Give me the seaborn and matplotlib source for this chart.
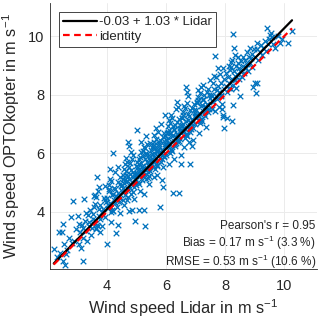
import numpy as np
import pandas as pd
import matplotlib
matplotlib.use("Agg")
import matplotlib.pyplot as plt
import seaborn as sns

# ---- data ----
lidar = [
 # 2.2 - 3.0
 2.2,2.38,2.48,2.51,2.54,2.51,2.58,2.3,2.65,2.78,2.85,2.9,2.7,2.95,2.6,2.82,2.4,
 # 3.0 - 3.5
 3.02,3.05,3.12,3.19,3.22,3.1,3.15,3.2,3.25,3.3,3.35,3.4,3.45,3.05,3.28,3.38,3.42,3.48,3.33,3.18,
 # 3.5 - 4.0
 3.52,3.67,3.58,3.83,3.61,3.95,3.73,3.54,3.88,3.64,3.78,3.56,3.98,3.7,3.82,3.6,3.92,3.76,3.63,3.89,3.53,3.72,
 3.66,3.74,3.94,3.77,3.64,3.85,3.56,3.7,
 # 4.0 - 4.5
 4.02,4.16,4.08,4.33,4.11,4.45,4.23,4.04,4.37,4.14,4.28,4.06,4.48,4.2,4.31,4.09,4.41,4.26,4.13,4.38,4.03,4.22,4.46,4.07,4.34,4.18,4.43,4.1,4.25,4.35,
 4.0,4.3,4.37,4.2,4.12,4.36,4.13,4.45,4.27,
 # 4.5 - 5.0
 4.53,4.61,4.57,4.84,4.69,4.92,4.77,4.55,4.98,4.66,4.73,4.88,4.51,4.95,4.62,4.81,4.7,4.59,4.86,4.79,
 4.64,4.97,4.52,4.75,4.9,4.68,4.83,4.56,4.94,4.72,4.6,4.87,4.78,4.99,4.54,4.67,4.91,4.74,4.82,4.63,
 4.71,4.75,4.75,4.95,4.85,4.65,4.89,4.58,4.93,4.8,
 # 5.0 - 5.5
 5.04,5.13,5.27,5.08,5.41,5.19,5.36,5.02,5.48,5.22,5.31,5.11,5.44,5.17,5.39,5.06,5.29,5.46,5.24,5.14,
 5.33,5.01,5.43,5.2,5.37,5.09,5.26,5.49,5.16,5.34,5.03,5.42,5.23,5.12,5.38,5.28,5.07,5.45,5.18,5.32,
 5.47,5.21,5.35,5.1,5.4,
 5.02,5.09,5.26,5.29,5.17,5.33,5.41,5.47,5.11,5.25,
 # 5.5 - 6.0
 5.53,5.68,5.59,5.81,5.62,5.94,5.74,5.51,5.87,5.66,5.79,5.56,5.97,5.71,5.84,5.6,5.92,5.77,5.64,5.89,
 5.52,5.73,5.99,5.58,5.83,5.69,5.95,5.61,5.76,5.86,5.54,5.91,5.67,5.8,5.57,5.98,5.72,5.85,5.63,5.93,
 5.75,5.55,5.88,5.7,5.96,
 5.8,5.9,5.97,5.83,5.67,5.71,5.85,5.91,5.6,
 # 6.0 - 6.5
 6.03,6.17,6.09,6.34,6.12,6.46,6.24,6.01,6.38,6.15,6.29,6.06,6.49,6.21,6.33,6.1,6.42,6.27,6.14,6.39,
 6.02,6.23,6.47,6.08,6.32,6.19,6.44,6.11,6.26,6.36,6.04,6.41,6.18,6.3,6.07,6.48,6.22,6.35,6.13,6.43,
 6.25,6.05,
 6.24,6.44,6.38,6.41,6.5,6.51,6.17,6.33,6.11,6.28,
 # 6.5 - 7.0
 6.53,6.67,6.59,6.84,6.62,6.96,6.74,6.51,6.88,6.65,6.79,6.56,6.99,6.71,6.83,6.6,6.92,6.77,6.64,6.89,
 6.52,6.73,6.97,6.58,6.82,6.69,6.94,6.61,6.76,6.86,6.54,6.91,6.68,6.8,6.57,6.98,6.72,6.85,
 6.68,6.71,6.82,6.88,6.78,6.61,6.93,6.75,
 # 7.0 - 7.5
 7.03,7.17,7.09,7.34,7.12,7.46,7.24,7.01,7.38,7.15,7.29,7.06,7.49,7.21,7.33,7.1,7.42,7.27,7.14,7.39,
 7.02,7.23,7.47,7.08,7.32,7.19,7.44,7.11,7.26,7.36,7.04,7.41,7.18,7.3,
 7.19,7.49,7.11,7.37,7.25,
 # 7.5 - 8.0
 7.66,7.9,8.07,7.97,7.93,7.93,7.93,7.52,7.55,7.58,7.6,7.63,7.65,7.68,7.7,7.73,7.75,7.78,7.8,7.83,7.85,7.88,7.9,7.95,7.98,7.57,7.72,7.87,7.62,7.77,
 # 8.0 - 8.5
 8.27,8.31,8.34,8.2,8.27,8.24,8.02,8.05,8.08,8.1,8.13,8.15,8.18,8.2,8.23,8.25,8.28,8.3,8.33,8.36,8.38,8.4,8.43,8.46,8.48,8.12,8.22,8.35,8.45,
 # 8.5 - 9.0
 8.51,8.52,8.55,8.58,8.6,8.62,8.65,8.68,8.7,8.73,8.75,8.78,8.8,8.83,8.85,8.88,8.9,8.93,8.95,8.97,
 # 9.0 - 9.5
 9.0,9.1,9.05,9.09,9.02,9.08,9.12,9.18,9.22,9.25,9.3,9.35,9.4,9.43,9.45,9.48,
 # 9.5 - 10.3
 9.53,9.6,9.55,9.62,9.7,9.87,9.93,10.14,10.27,9.8,
]
optokopter = [
 # 2.2 - 3.0
 2.73,3.31,3.31,3.59,2.9,2.32,2.19,2.45,2.7,3.82,4.37,3.0,3.1,3.4,2.55,2.95,2.6,
 # 3.0 - 3.5
 3.86,2.9,2.77,2.32,4.44,3.3,3.55,3.1,3.7,3.35,3.9,3.5,3.2,3.6,3.95,3.65,4.05,3.45,3.0,3.45,
 # 3.5 - 4.0
 3.91,3.55,4.26,3.98,3.71,4.42,3.87,3.62,4.09,4.51,3.77,4.16,4.33,3.52,4.01,4.58,3.83,4.22,3.46,4.47,3.74,4.11,
 5.19,4.85,4.9,3.3,3.4,3.5,4.55,4.7,
 # 4.0 - 4.5
 4.47,4.05,4.78,4.52,4.21,4.96,4.39,4.12,4.63,5.05,4.29,4.71,4.88,4.02,4.55,5.12,4.34,4.77,3.98,5.03,4.24,4.61,4.49,4.92,4.18,4.57,5.18,4.31,4.82,4.44,
 2.9,3.28,3.55,6.01,5.45,5.55,3.65,3.95,5.35,
 # 4.5 - 5.0
 5.12,4.58,5.47,5.03,5.71,4.86,5.29,4.41,5.58,5.02,4.77,5.36,4.93,5.14,5.63,4.62,5.21,4.98,5.79,4.83,
 5.38,5.22,4.72,5.53,4.68,5.07,5.44,5.26,5.01,4.52,5.09,5.18,5.66,4.91,4.81,4.39,5.31,5.11,4.96,5.27,
 6.38,6.25,4.03,3.69,4.06,5.85,5.95,4.25,4.45,6.05,
 # 5.0 - 5.5
 5.43,5.87,5.21,5.62,5.96,5.08,5.71,5.34,6.12,5.49,5.93,5.27,5.58,6.04,5.16,5.52,5.79,5.41,6.23,5.66,
 5.12,5.31,5.84,5.57,6.31,4.94,5.46,5.73,5.38,6.01,5.69,5.24,5.91,5.35,5.61,6.17,5.02,5.77,5.55,5.29,
 5.64,6.09,5.48,5.82,5.36,
 6.79,4.06,4.06,3.52,6.4,6.6,4.95,6.35,4.7,4.6,
 # 5.5 - 6.0
 5.97,5.61,6.28,6.05,5.74,6.43,5.92,5.68,6.11,6.49,5.83,6.17,6.32,5.58,6.02,6.63,5.89,6.24,5.47,6.55,
 5.79,6.14,5.96,6.38,5.71,6.07,6.68,5.87,6.31,5.94,6.21,6.09,5.64,6.46,5.99,6.26,6.72,5.81,6.19,5.92,
 6.4,5.53,6.13,6.03,6.58,
 4.17,4.85,7.31,7.0,6.85,5.25,5.1,5.55,5.2,
 # 6.0 - 6.5
 6.47,6.12,6.81,6.55,6.28,6.97,6.44,6.21,6.66,7.04,6.33,6.72,6.88,6.09,6.57,7.13,6.38,6.79,6.02,7.06,
 6.31,6.64,6.49,6.92,6.24,6.59,7.18,6.37,6.83,6.45,6.71,6.62,6.16,6.98,6.51,6.76,7.22,6.34,6.69,6.41,
 6.93,6.27,
 4.64,4.64,7.75,7.58,5.94,5.63,7.3,7.5,5.65,5.8,
 # 6.5 - 7.0
 6.98,6.62,7.31,7.05,6.78,7.47,6.94,6.71,7.16,7.54,6.83,7.22,7.38,6.59,7.07,7.63,6.88,7.29,6.52,7.56,
 6.81,7.14,6.99,7.42,6.74,7.09,7.68,6.87,7.33,6.95,7.21,7.12,6.66,7.48,7.01,7.26,7.72,6.84,
 8.26,8.09,5.63,6.25,6.38,6.2,6.45,7.95,
 # 7.0 - 7.5
 7.48,7.12,7.83,7.57,7.29,7.99,7.46,7.21,7.68,8.06,7.35,7.74,7.9,7.09,7.59,8.15,7.4,7.81,7.03,8.08,
 7.31,7.66,7.51,7.94,7.26,7.61,8.2,7.39,7.85,7.47,7.73,7.64,7.18,8.0,
 8.26,8.5,6.7,6.9,8.35,
 # 7.5 - 8.0
 9.32,7.51,7.2,6.86,7.24,7.3,8.91,8.0,7.5,8.4,7.75,8.2,7.45,7.95,8.6,7.85,8.3,7.6,8.1,8.7,7.95,8.4,7.7,8.2,8.55,7.95,8.15,8.0,8.65,8.9,
 # 8.0 - 8.5
 10.07,9.59,9.35,9.11,7.65,7.1,8.3,8.75,8.1,8.6,9.0,8.4,8.85,8.2,8.55,9.2,8.35,8.8,8.5,9.0,8.25,8.7,9.1,8.55,8.9,8.25,8.95,8.65,9.3,
 # 8.5 - 9.0
 7.95,8.8,9.15,8.6,9.0,9.3,8.75,9.2,8.9,9.45,9.05,8.8,9.3,9.1,9.6,9.25,8.95,9.4,8.26,9.55,
 # 9.0 - 9.5
 8.4,8.4,8.06,9.76,9.3,9.55,9.2,9.45,9.7,9.35,9.6,9.85,9.5,10.28,9.75,9.9,
 # 9.5 - 10.3
 10.04,9.97,10.1,9.75,9.6,9.76,9.9,9.76,10.17,10.0,
]
fit_intercept = -0.03
fit_slope = 1.03
fit_label = "-0.03 + 1.03 * Lidar"
identity_label = "identity"
stats_lines = [
    "Pearson's r = 0.95",
    "Bias = 0.17 m s$^{-1}$ (3.3 %)",
    "RMSE = 0.53 m s$^{-1}$ (10.6 %)",
]
x_ticks = [4, 6, 8, 10]
y_ticks = [4, 6, 8, 10]
x_label = "Wind speed Lidar in m s$^{-1}$"
y_label = "Wind speed OPTOkopter in m s$^{-1}$"

n = min(len(lidar), len(optokopter))
df = pd.DataFrame({"Lidar": lidar[:n], "OPTOkopter": optokopter[:n]})

sns.set_theme(style="whitegrid")
plt.rcParams["font.family"] = ["Liberation Sans", "DejaVu Sans"]
plt.rcParams["mathtext.fontset"] = "custom"
plt.rcParams["mathtext.rm"] = "Liberation Sans"
plt.rcParams["mathtext.it"] = "Liberation Sans:italic"
plt.rcParams["mathtext.bf"] = "Liberation Sans:bold"

fig = plt.figure(figsize=(3.2, 3.24), dpi=100)
ax = fig.add_axes([0.156, 0.17, 0.835, 0.82])

sns.scatterplot(data=df, x="Lidar", y="OPTOkopter", marker="x", s=16,
                color="#0072BD", linewidth=0.9, ax=ax, legend=False, zorder=2)

xr = np.array([df["Lidar"].min(), df["Lidar"].max()])
ax.plot(xr, fit_intercept + fit_slope * xr, color="black", lw=1.6,
        label=fit_label, zorder=3)
ax.plot(xr, xr, color="red", lw=1.6, ls=(0, (3, 2)), label=identity_label, zorder=4)

ax.set_xlim(2.07, 11.12)
ax.set_ylim(2.05, 11.13)
ax.set_xticks(x_ticks)
ax.set_yticks(y_ticks)
ax.grid(True, color="#ebebeb", lw=0.7)
ax.set_facecolor("white")
for s in ["top", "right"]:
    ax.spines[s].set_visible(False)
for s in ["left", "bottom"]:
    ax.spines[s].set_visible(True)
    ax.spines[s].set_color("#262626")
    ax.spines[s].set_linewidth(0.6)
ax.tick_params(axis="both", direction="in", length=3, width=0.6,
               color="#262626", labelsize=10.5, labelcolor="#262626")
ax.tick_params(axis="x", pad=7)
ax.tick_params(axis="y", pad=4)
ax.set_xlabel(x_label, fontsize=11.8, color="#262626", labelpad=3)
ax.set_ylabel(y_label, fontsize=11.8, color="#262626", labelpad=4)

leg = ax.legend(loc="upper left", bbox_to_anchor=(0.034, 0.966), borderaxespad=0,
                fontsize=9.5, frameon=True, fancybox=False, handlelength=2.6,
                handletextpad=0.15, labelspacing=0.15, borderpad=0.3)
leg.get_frame().set_edgecolor("#262626")
leg.get_frame().set_linewidth(0.6)
leg.get_frame().set_alpha(1)

ys = [0.150, 0.083, 0.011]
for t, yy in zip(stats_lines, ys):
    ax.text(0.995, yy, t, transform=ax.transAxes, ha="right", va="baseline",
            fontsize=8.5, color="#262626", zorder=5)

fig.savefig("out.png", dpi=100)
